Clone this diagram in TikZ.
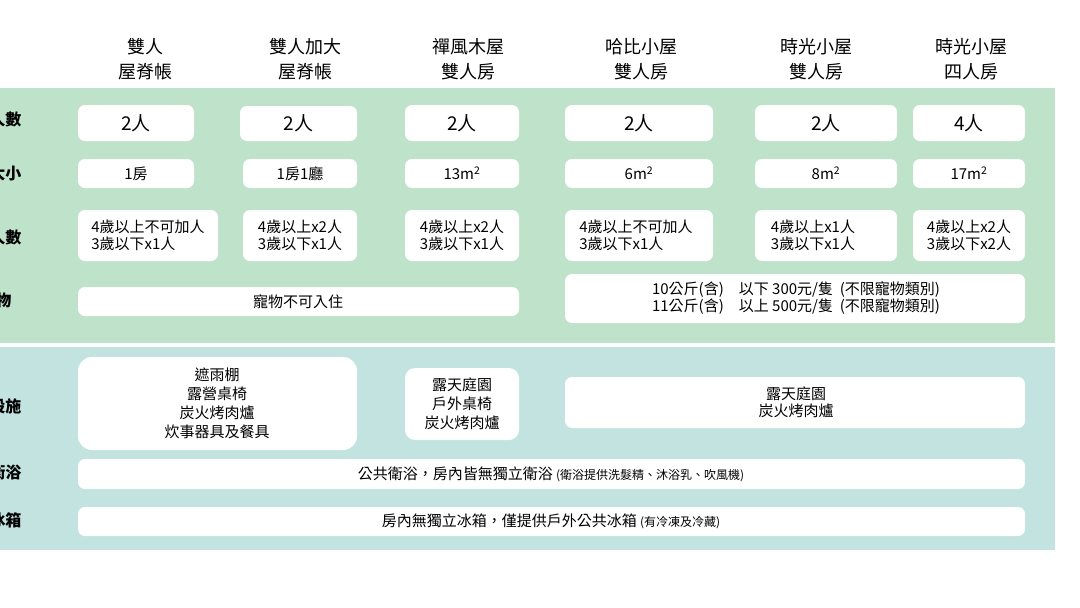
\documentclass[tikz,border=0pt]{standalone}
\usepackage{fontspec}
\setmainfont{Noto Sans CJK TC}
\begin{document}
\begin{tikzpicture}[x=1pt,y=-1pt,
  cell/.style={fill=white,rounded corners=7pt,draw=none},
  lbl/.style={anchor=east,font=\fontsize{16}{18}\selectfont\bfseries},
  hd/.style={align=center,font=\fontsize{18}{25}\selectfont},
  tx/.style={align=center,font=\fontsize{15}{17}\selectfont},
  big/.style={font=\fontsize{19}{20}\selectfont}]
\useasboundingbox (0,0) rectangle (1080,608);
\fill[white] (0,0) rectangle (1080,608);
\fill[fill={rgb,255:red,191;green,227;blue,202}] (0,88) rectangle (1055,343);
\fill[fill={rgb,255:red,194;green,227;blue,224}] (0,347) rectangle (1055,550);
% headers
\node[hd] (h1) at (145,59) {雙人\\屋脊帳};
\node[hd] (h2) at (305,59) {雙人加大\\屋脊帳};
\node[hd] (h3) at (468,59) {禪風木屋\\雙人房};
\node[hd] (h4) at (641,59) {哈比小屋\\雙人房};
\node[hd] (h5) at (816,59) {時光小屋\\雙人房};
\node[hd] (h6) at (971,59) {時光小屋\\四人房};
% labels (cut at left edge, as in the reference)
\node[lbl] (l1) at (25,119) {人數};
\node[lbl] (l2) at (25,173) {大小};
\node[lbl] (l3) at (25,237) {人數};
\node[lbl] (l4) at (15,300) {寵物};
\node[lbl] (l5) at (25,406) {設施};
\node[lbl] (l6) at (25,472) {衛浴};
\node[lbl] (l7) at (25,520) {冰箱};
% rows
\foreach \a/\b/\c/\d/\t [count=\i] in {78/105/194/141/2人,240/106/357/141/2人,405/105/519/141/2人,565/105/713/141/2人,755/105/897/141/2人,913/105/1025/141/4人}{
  \fill[cell] (\a,\b) rectangle (\c,\d);
  \node[big] (r1c\i) at ({(\a+\c)/2},{(\b+\d)/2}) {\t};}
\foreach \a/\c/\t [count=\i] in {78/194/1房,243/357/1房1廳,405/519/13m\textsuperscript{2},565/713/6m\textsuperscript{2},755/897/8m\textsuperscript{2},913/1025/17m\textsuperscript{2}}{
  \fill[cell] (\a,159) rectangle (\c,188);
  \node[tx] (r2c\i) at ({(\a+\c)/2},173.5) {\t};}
\fill[cell] (78,210) rectangle (218,261);
\node[tx,align=left] (r3c1) at (148,235.5) {4歲以上不可加人\\3歲以下x1人};
\fill[cell] (243,210) rectangle (357,261);
\node[tx] (r3c2) at (300,235.5) {4歲以上x2人\\3歲以下x1人};
\fill[cell] (405,210) rectangle (519,261);
\node[tx] (r3c3) at (462,235.5) {4歲以上x2人\\3歲以下x1人};
\fill[cell] (565,210) rectangle (713,261);
\node[tx,align=left] (r3c4) at (636,235.5) {4歲以上不可加人\\3歲以下x1人};
\fill[cell] (755,210) rectangle (897,261);
\node[tx] (r3c5) at (813,235.5) {4歲以上x1人\\3歲以下x1人};
\fill[cell] (913,210) rectangle (1025,261);
\node[tx] (r3c6) at (969,235.5) {4歲以上x2人\\3歲以下x2人};
\fill[cell] (78,287) rectangle (519,316);
\node[tx] (r4a) at (298,301.5) {寵物不可入住};
\fill[cell] (565,274) rectangle (1025,323);
\node[tx] (r4b) at (796,298.5) {10公斤(含)\quad 以下 300元/隻\ \ (不限寵物類別)\\11公斤(含)\quad 以上 500元/隻\ \ (不限寵物類別)};
\fill[cell,rounded corners=14pt] (78,357) rectangle (357,450);
\node[tx,font=\fontsize{15}{19}\selectfont] (r5a) at (217,403.5) {遮雨棚\\露營桌椅\\炭火烤肉爐\\炊事器具及餐具};
\fill[cell,rounded corners=10pt] (405,368) rectangle (519,440);
\node[tx,font=\fontsize{15}{19}\selectfont] (r5b) at (462,404) {露天庭園\\戶外桌椅\\炭火烤肉爐};
\fill[cell] (565,377) rectangle (1025,428);
\node[tx] (r5c) at (796,402.5) {露天庭園\\炭火烤肉爐};
\fill[cell] (78,459) rectangle (1025,489);
\node[tx] (r6) at (551,474) {公共衛浴，房內皆無獨立衛浴 {\fontsize{12}{13}\selectfont(衛浴提供洗髮精、沐浴乳、吹風機)}};
\fill[cell] (78,507) rectangle (1025,536);
\node[tx] (r7) at (551,521.5) {房內無獨立冰箱，僅提供戶外公共冰箱 {\fontsize{12}{13}\selectfont(有冷凍及冷藏)}};
\end{tikzpicture}
\end{document}
